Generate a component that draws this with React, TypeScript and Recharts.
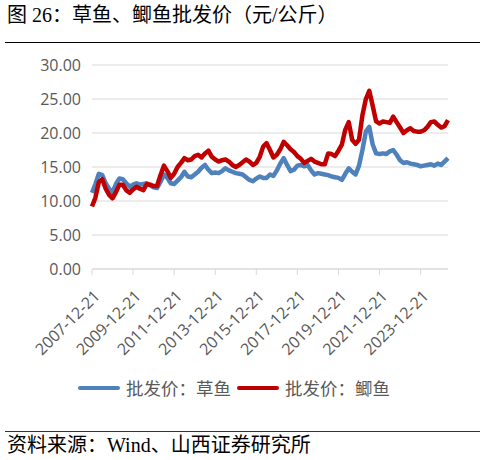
import React from 'react';
import { LineChart, Line, XAxis, YAxis, CartesianGrid, Legend } from 'recharts';

// Bi-monthly observations starting 2007-12-21
const grassCarp = [
  11.2, 12.5, 14.0, 13.8, 12.6, 11.8, 11.3, 12.5, 13.3, 13.2,
  12.6, 12.1, 12.4, 12.6, 12.4, 12.5, 12.6, 12.3, 12.0, 11.9,
  12.8, 13.9, 13.4, 12.6, 12.5, 13.0, 13.5, 14.3, 13.6, 13.5,
  13.9, 14.3, 14.9, 15.3, 14.6, 14.1, 14.2, 14.1, 14.4, 14.8,
  14.5, 14.3, 14.1, 14.0, 13.9, 13.5, 13.1, 12.9, 13.3, 13.6,
  13.4, 13.4, 13.9, 13.7, 14.5, 15.5, 16.3, 15.3, 14.4, 14.6,
  15.2, 15.3, 15.1, 15.3, 14.5, 13.9, 14.1, 14.0, 13.9, 13.8,
  13.6, 13.5, 13.4, 13.1, 14.0, 14.8, 14.3, 13.9, 15.2, 17.5,
  20.2, 20.9, 18.3, 17.0, 16.9, 17.0, 16.9, 17.3, 17.5, 16.8,
  16.0, 15.6, 15.7, 15.5, 15.4, 15.3, 15.1, 15.2, 15.3, 15.4,
  15.2, 15.5, 15.3, 15.8, 16.3,
];

const crucianCarp = [
  9.2, 10.5, 12.8, 13.2, 11.8, 10.9, 10.4, 11.3, 12.4, 12.4,
  11.6, 11.2, 11.7, 12.1, 11.8, 11.6, 12.5, 12.4, 12.2, 12.2,
  13.8, 15.2, 14.4, 13.4, 14.0, 15.0, 15.6, 16.3, 16.0, 16.1,
  16.6, 16.8, 16.4, 17.0, 17.4, 16.5, 16.1, 15.8, 16.0, 16.1,
  15.8, 15.3, 15.0, 15.3, 15.7, 16.1, 15.8, 15.3, 15.6, 16.5,
  18.0, 18.5, 17.5, 16.4, 16.8, 17.6, 18.7, 18.2, 17.6, 17.2,
  16.6, 16.2, 15.6, 15.9, 16.2, 15.8, 15.6, 15.4, 15.4, 17.0,
  16.9, 16.6, 17.4, 18.3, 20.5, 21.6, 19.0, 18.4, 19.0, 22.6,
  25.0, 26.2, 24.0, 21.7, 21.4, 21.7, 21.6, 21.5, 22.4, 21.6,
  20.8, 20.0, 20.4, 20.7, 20.3, 20.2, 20.2, 20.4, 20.9, 21.6,
  21.7, 21.2, 20.8, 21.0, 21.9,
];

const categories = grassCarp.map((_, i) => {
  const m = 11 + 2 * i;
  const year = 2007 + Math.floor(m / 12);
  const month = (m % 12) + 1;
  return `${year}-${String(month).padStart(2, '0')}-21`;
});

const yTicks = [0, 5, 10, 15, 20, 25, 30];
const seriesKeys = ['grass', 'crucian'];
const seriesNames = ['批发价：草鱼', '批发价：鲫鱼'];
const seriesColors = ['#4F81BD', '#C00000'];
const titleText = '图 26：草鱼、鲫鱼批发价（元/公斤）';
const sourceText = '资料来源：Wind、山西证券研究所';

const data = categories.map((date, i) => ({
  date,
  grass: grassCarp[i],
  crucian: crucianCarp[i],
}));

const CJK = "'Liberation Serif', 'Noto Sans CJK SC', serif";
const AXIS_FONT = "'Open Sans', 'Noto Sans', sans-serif";

const XTick = (props: any) => {
  const { x, y, payload } = props;
  const ax = x + 9;
  const ay = y + 20;
  return (
    <text
      x={ax}
      y={ay}
      textAnchor="end"
      transform={`rotate(-45 ${ax} ${ay})`}
      fill="#595959"
      fontSize={16}
      fontFamily={AXIS_FONT}
    >
      {payload.value}
    </text>
  );
};

const LegendContent = () => (
  <div
    style={{
      display: 'flex',
      alignItems: 'center',
      height: 20,
      paddingLeft: 78,
      fontFamily: "'Noto Sans CJK SC', sans-serif",
      fontSize: 17.5,
      color: '#595959',
      whiteSpace: 'nowrap',
    }}
  >
    {seriesNames.map((name, i) => (
      <div key={name} style={{ display: 'flex', alignItems: 'center', marginRight: 6 }}>
        <div style={{ width: 42, height: 4.5, borderRadius: 2, background: seriesColors[i], marginRight: 6 }} />
        <span style={{ lineHeight: '20px' }}>{name}</span>
      </div>
    ))}
  </div>
);

export default function App() {
  return (
    <div style={{ position: 'absolute', left: 0, top: 0, width: 485, height: 460, background: '#fff' }}>
      <LineChart
        width={485}
        height={460}
        data={data}
        margin={{ top: 65, right: 37, left: 0, bottom: 111 }}
      >
        <CartesianGrid horizontal vertical={false} stroke="#d9d9d9" strokeWidth={1} />
        <XAxis
          dataKey="date"
          interval={11}
          height={60}
          stroke="#d9d9d9"
          tickSize={6}
          tickMargin={2}
          tick={<XTick />}
          tickLine={{ stroke: '#d9d9d9' }}
          axisLine={{ stroke: '#d9d9d9' }}
        />
        <YAxis
          width={92}
          domain={[0, 30]}
          ticks={yTicks}
          tickFormatter={(v: number) => v.toFixed(2)}
          axisLine={false}
          tickLine={false}
          tickSize={8}
          tickMargin={3}
          tick={{ fill: '#595959', fontSize: 16, fontFamily: AXIS_FONT }}
        />
        <Legend
          verticalAlign="bottom"
          content={<LegendContent />}
          wrapperStyle={{ top: 378, left: 0, width: 485, height: 20, bottom: 'auto' }}
        />
        {seriesKeys.map((k, i) => (
          <Line
            key={k}
            type="linear"
            dataKey={k}
            name={seriesNames[i]}
            stroke={seriesColors[i]}
            strokeWidth={4.5}
            strokeLinejoin="round"
            dot={false}
            activeDot={false}
            isAnimationActive={false}
          />
        ))}
      </LineChart>
      <svg
        width={485}
        height={460}
        style={{ position: 'absolute', left: 0, top: 0, pointerEvents: 'none' }}
      >
        <text x={7} y={22} fontSize={20} fontFamily={CJK} fill="#000">{titleText}</text>
        <line x1={5} x2={480} y1={42.5} y2={42.5} stroke="#000" strokeWidth={1.2} />
        <line x1={5} x2={480} y1={431.5} y2={431.5} stroke="#333" strokeWidth={1} />
        <text x={7} y={452} fontSize={20} fontFamily={CJK} fill="#000">{sourceText}</text>
      </svg>
    </div>
  );
}
